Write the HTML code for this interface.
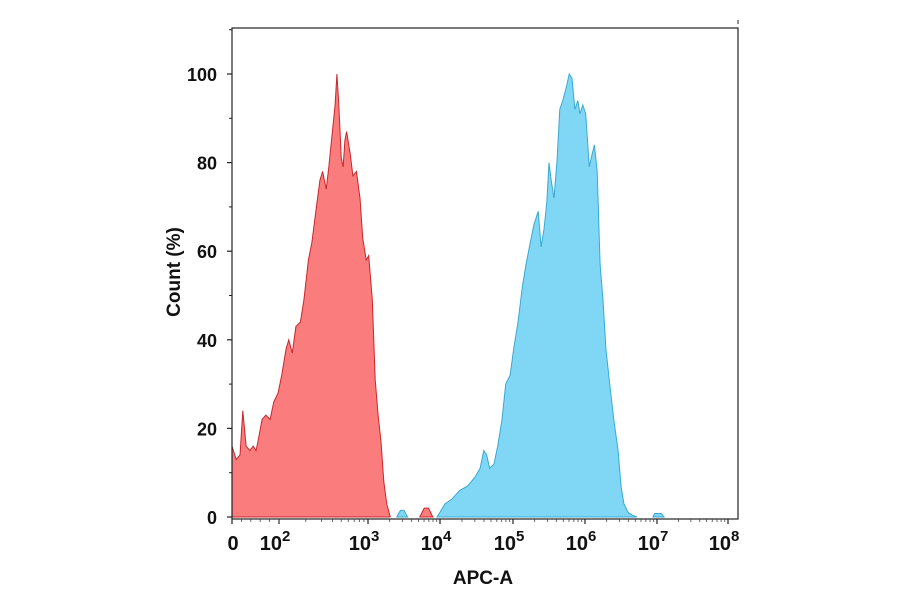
<!DOCTYPE html>
<html><head><meta charset="utf-8"><style>
body{margin:0;background:#fff;}
svg{display:block;font-family:"Liberation Sans",Arial,sans-serif;}
</style></head><body>
<svg id="chart" width="900" height="594"></svg>
<script>
const yTicks=[0,20,40,60,80,100];
const xDecades=[2,3,4,5,6,7,8];
const redX=[1.00,1.09,1.17,1.23,1.30,1.38,1.45,1.51,1.55,1.64,1.72,1.81,1.89,1.98,2.03,2.08,2.11,2.15,2.19,2.24,2.28,2.33,2.37,2.42,2.46,2.49,2.53,2.56,2.60,2.63,2.65,2.67,2.70,2.72,2.74,2.76,2.80,2.83,2.87,2.91,2.94,2.98,3.01,3.06,3.10,3.14,3.18,3.22,3.26,3.31];
const redY=[16,13,14,24,16,15,16,15,17,22,23,22,26,28,32,38,40,37,43,44,49,58,62,70,76,78,74,79,87,93,100,94,81,79,85,87,82,77,78,72,63,58,59,49,31,23,17,8,3,0];
const blueX=[3.96,4.07,4.16,4.27,4.38,4.48,4.55,4.60,4.64,4.68,4.74,4.79,4.85,4.90,4.96,5.01,5.07,5.13,5.18,5.24,5.29,5.35,5.39,5.43,5.47,5.50,5.53,5.57,5.61,5.65,5.69,5.74,5.78,5.82,5.86,5.90,5.93,5.97,6.01,6.06,6.10,6.13,6.17,6.21,6.25,6.29,6.35,6.40,6.46,6.50,6.54,6.60,6.65,6.72];
const blueY=[0,3,4,6,7,9,11,15,14,11,12,16,22,30,32,38,44,52,57,62,66,69,61,65,71,80,76,72,80,92,94,97,100,99,92,94,91,93,91,79,82,84,78,57,49,38,29,22,15,7,3,1,0.5,0];
const blueBumpX=[3.40,3.45,3.50,3.55,6.94,6.97,7.06,7.10];
const blueBumpY=[0,1.5,1.5,0,0,0.8,0.8,0];
const redBumpX=[3.72,3.78,3.84,3.90];
const redBumpY=[0,2,2,0];

const NS="http://www.w3.org/2000/svg";
const svg=document.getElementById('chart');
const L=232,R=738,T=28,B=519;
const bp=[[1,232],[2,279],[3,368],[4,440],[5,513],[6,585],[7,657],[8,728]];
function xs(v){
  for(let i=0;i<bp.length-1;i++){
    if(v<=bp[i+1][0]||i==bp.length-2){const a=bp[i],b=bp[i+1];return a[1]+(v-a[0])/(b[0]-a[0])*(b[1]-a[1]);}
  }
}
function ys(c){return 517-c*4.43;}
function el(tag,attrs){const e=document.createElementNS(NS,tag);for(const k in attrs)e.setAttribute(k,attrs[k]);svg.appendChild(e);return e;}
function area(X,Y,fill,stroke){
  let d='M'+xs(X[0])+','+ys(0);
  for(let i=0;i<X.length;i++)d+=' L'+xs(X[i]).toFixed(1)+','+ys(Y[i]).toFixed(1);
  d+=' L'+xs(X[X.length-1])+','+ys(0)+' Z';
  return el('path',{d:d,fill:fill,stroke:stroke,'stroke-width':1});
}
const rA=area(redX,redY,'#fb7c7c','#c8262b');


const bA=area(blueX,blueY,'#80d7f5','#3aa9cf');


const bB=area(blueBumpX.slice(0,4),blueBumpY.slice(0,4),'#80d7f5','#3aa9cf');


const bB2=area(blueBumpX.slice(4),blueBumpY.slice(4),'#80d7f5','#3aa9cf');


const rB=area(redBumpX,redBumpY,'#fb7c7c','#c8262b');



const frame=el('rect',{x:L,y:T,width:R-L,height:B-T,fill:'none',stroke:'#222','stroke-width':1.2});


el('line',{x1:R,y1:20,x2:R,y2:24,stroke:'#222'});

yTicks.forEach(t=>{
  const y=ys(t);
  el('line',{x1:L-5,y1:y,x2:L,y2:y,stroke:'#222','stroke-width':1.2});
  const tx=el('text',{x:217,y:y+7,'text-anchor':'end','font-size':18,'font-weight':'bold',fill:'#111'});
  tx.textContent=t;
  
  
});
for(let t=10;t<110;t+=20){const y=ys(t);el('line',{x1:L-3,y1:y,x2:L,y2:y,stroke:'#222'});}
el('line',{x1:L-3,y1:ys(110),x2:L,y2:ys(110),stroke:'#222'});

const z=el('line',{x1:xs(1),y1:B,x2:xs(1),y2:B+5,stroke:'#222','stroke-width':1.2});
const z0=el('text',{x:xs(1)+1,y:550,'text-anchor':'middle','font-size':20,'font-weight':'bold',fill:'#111'});
z0.textContent='0';


xDecades.forEach(d=>{
  const x=xs(d);
  el('line',{x1:x,y1:B,x2:x,y2:B+5,stroke:'#222','stroke-width':1.2});
  if(d<8){for(let m=2;m<10;m++){const mx=xs(d+Math.log10(m));el('line',{x1:mx,y1:B,x2:mx,y2:B+3,stroke:'#444','stroke-width':0.8});}}
  const tx=el('text',{x:x-4,y:550,'text-anchor':'middle','font-size':20,'font-weight':'bold',fill:'#111'});
  tx.textContent='10';
  const s=document.createElementNS(NS,'tspan');s.setAttribute('dy','-9');s.setAttribute('font-size',15);s.textContent=d;tx.appendChild(s);
  
  
});
for(let m=1.2;m<2;m+=0.2){el('line',{x1:xs(m),y1:B,x2:xs(m),y2:B+3,stroke:'#444','stroke-width':0.8});}

const xt=el('text',{x:483,y:584,'text-anchor':'middle','font-size':19,'font-weight':'bold',fill:'#111'});
xt.textContent='APC-A';


const yt=el('text',{x:0,y:0,'text-anchor':'middle','font-size':19,'font-weight':'bold',fill:'#111',transform:'translate(180,272) rotate(-90)'});
yt.textContent='Count (%)';


</script>
</body></html>
